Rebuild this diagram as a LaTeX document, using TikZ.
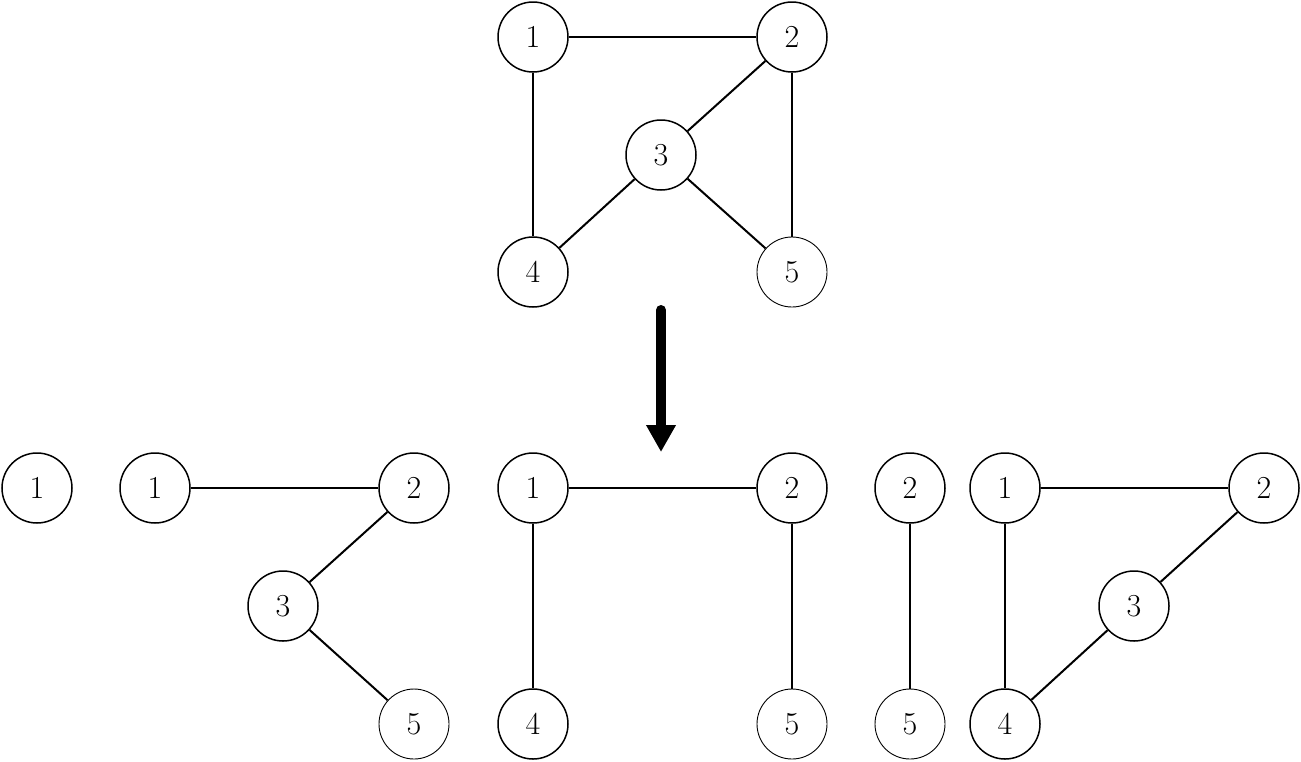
\documentclass[tikz,border=0pt]{standalone}
\usetikzlibrary{arrows.meta}
\begin{document}
\begin{tikzpicture}[x=0.5pt,y=-0.5pt,
  vtx/.style={circle,draw,line width=0.75pt,minimum size=35pt,inner sep=0pt,font=\fontsize{16}{19}\selectfont},
  vthin/.style={vtx,line width=0.45pt},
  edge/.style={line width=1pt},
  bigarrow/.style={line width=5pt,line cap=round,-{Triangle[width=14pt,length=13.5pt]}}]
\useasboundingbox (0,0) rectangle (1301,761);
% top graph
\node[vtx] (t1) at (533,37) {1};
\node[vtx] (t2) at (792,37) {2};
\node[vtx] (t3) at (661,155) {3};
\node[vtx] (t4) at (533,272) {4};
\node[vthin] (t5) at (792,272) {5};
\draw[edge] (t1) -- (t2);
\draw[edge] (t1) -- (t4);
\draw[edge] (t2) -- (t3);
\draw[edge] (t2) -- (t5);
\draw[edge] (t3) -- (t4);
\draw[edge] (t3) -- (t5);
% arrow
\coordinate (as) at (661,310);
\coordinate (ae) at (661,452);
\draw[bigarrow] (as) -- (ae);
% bottom: isolated 1
\node[vtx] (a1) at (37,488) {1};
% bottom: 1-2-3-5
\node[vtx] (b1) at (155,488) {1};
\node[vtx] (b2) at (414,488) {2};
\node[vtx] (b3) at (283,606) {3};
\node[vthin] (b5) at (414,724) {5};
\draw[edge] (b1) -- (b2);
\draw[edge] (b2) -- (b3);
\draw[edge] (b3) -- (b5);
% bottom: 4-1-2-5
\node[vtx] (c1) at (533,488) {1};
\node[vtx] (c2) at (792,488) {2};
\node[vtx] (c4) at (533,724) {4};
\node[vthin] (c5) at (792,724) {5};
\draw[edge] (c1) -- (c2);
\draw[edge] (c1) -- (c4);
\draw[edge] (c2) -- (c5);
% bottom: 2-5
\node[vtx] (d2) at (910,488) {2};
\node[vthin] (d5) at (910,724) {5};
\draw[edge] (d2) -- (d5);
% bottom: 1-2-3-4 cycle
\node[vtx] (e1) at (1005,488) {1};
\node[vtx] (e2) at (1264,488) {2};
\node[vtx] (e3) at (1134,606) {3};
\node[vtx] (e4) at (1005,724) {4};
\draw[edge] (e1) -- (e2);
\draw[edge] (e2) -- (e3);
\draw[edge] (e3) -- (e4);
\draw[edge] (e1) -- (e4);
\end{tikzpicture}
\end{document}
